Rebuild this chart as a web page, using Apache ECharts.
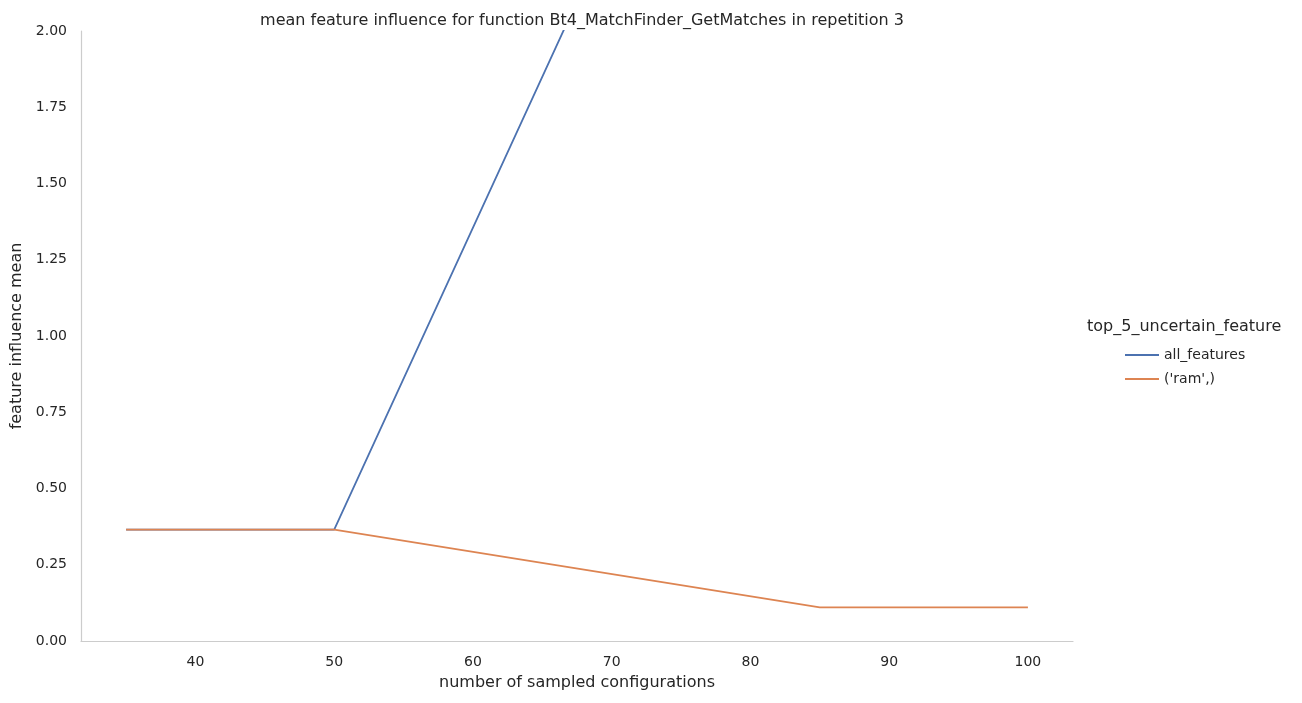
<!DOCTYPE html>
<html><head><meta charset="utf-8">
<script src="https://cdn.jsdelivr.net/npm/echarts@6/dist/echarts.min.js"></script>
<style>html,body{margin:0;padding:0;background:#fff}#c{width:1302px;height:703px}</style>
</head><body><div id="c"></div>
<script>
// 数据
var allX = [35, 50, 85];
var allY = [0.365, 0.365, 3.83];
var ramX = [35, 50, 85, 100];
var ramY = [0.365, 0.365, 0.11, 0.11];
var xTicks = [40, 50, 60, 70, 80, 90, 100];

function pairs(xs, ys){ var r=[]; for(var i=0;i<xs.length;i++){ r.push([xs[i], ys[i]]); } return r; }

var chart = echarts.init(document.getElementById('c'));
var font = 'DejaVu Sans';
chart.setOption({
  animation:false,
  textStyle:{fontFamily:font},
  title:{text:'mean feature influence for function Bt4_MatchFinder_GetMatches in repetition 3',
    left:577, top:8, textAlign:'center', textStyle:{fontSize:16, fontWeight:'normal', color:'#262626'}},
  grid:{left:81, top:31, width:992, height:610},
  legend:{orient:'vertical', left:1120, top:343, itemWidth:34, itemHeight:2, itemGap:10, icon:'rect',
    textStyle:{fontSize:14, color:'#262626'}, data:['all_features', "('ram',)"]},
  graphic:[{type:'text', left:1087, top:319, style:{text:'top_5_uncertain_feature', fontSize:16, fill:'#262626', fontFamily:font}}],
  xAxis:{type:'value', min:31.75, max:103.25,
    name:'number of sampled configurations', nameLocation:'middle', nameGap:34,
    nameTextStyle:{fontSize:16, color:'#262626'},
    axisLine:{lineStyle:{color:'#cccccc', width:1.2}}, axisTick:{show:false},
    axisLabel:{customValues:xTicks, fontSize:14, color:'#262626', margin:14},
    splitLine:{show:false}},
  yAxis:{type:'value', min:0, max:2, interval:0.25,
    name:'feature influence mean', nameLocation:'middle', nameGap:56,
    nameTextStyle:{fontSize:16, color:'#262626'},
    axisLine:{show:true, lineStyle:{color:'#cccccc', width:1.2}}, axisTick:{show:false},
    axisLabel:{fontSize:14, color:'#262626', margin:14, formatter:function(v){return v.toFixed(2);}},
    splitLine:{show:false}},
  series:[
    {name:'all_features', type:'line', data:pairs(allX, allY), showSymbol:false, clip:true,
      lineStyle:{color:'#4c72b0', width:1.8}, itemStyle:{color:'#4c72b0'}},
    {name:"('ram',)", type:'line', data:pairs(ramX, ramY), showSymbol:false, clip:true,
      lineStyle:{color:'#dd8452', width:1.8}, itemStyle:{color:'#dd8452'}}
  ]
});
</script></body></html>
